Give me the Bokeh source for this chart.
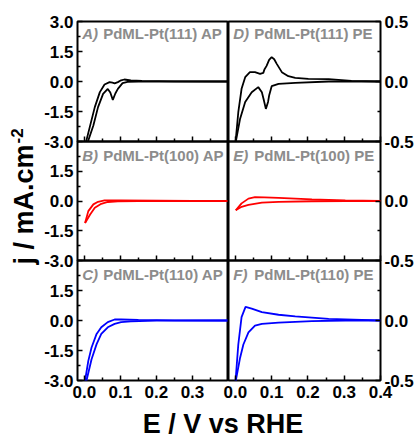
import math
from bokeh.plotting import figure
from bokeh.models import Range1d, FixedTicker, PrintfTickFormatter, CustomJSTickFormatter, Label
from bokeh.layouts import row, column
from bokeh.embed import file_html
from bokeh.resources import INLINE

FONT = "Liberation Sans"
GRAY = "#8c8c8c"

# ---------------- tick values / labels ----------------
x_ticks = [0.0, 0.1, 0.2, 0.3, 0.4]
x_minor = [0.05, 0.15, 0.25, 0.35]
left_ticks = [-3.0, -1.5, 0.0, 1.5, 3.0]
left_minor = [-2.25, -0.75, 0.75, 2.25]
right_ticks = [-0.5, 0.0, 0.5]
right_minor = [-0.25, 0.25]

panel_letters = ["A)", "B)", "C)", "D)", "E)", "F)"]
panel_names = ["PdML-Pt(111) AP", "PdML-Pt(100) AP", "PdML-Pt(110) AP",
               "PdML-Pt(111) PE", "PdML-Pt(100) PE", "PdML-Pt(110) PE"]
panel_colors = ["black", "red", "blue", "black", "red", "blue"]
x_label = "E / V vs RHE"
y_label = "j / mA.cm"
y_label_sup = "-2"

# ---------------- data (E in V, j in mA cm-2) ----------------
# A) PdML-Pt(111) AP
a_up_x = [0.002, 0.005, 0.015, 0.029, 0.043, 0.056, 0.070, 0.078, 0.084, 0.093, 0.102, 0.111, 0.129, 0.16, 0.25, 0.4]
a_up_j = [-3.5, -3.0, -2.28, -1.28, -0.53, -0.15, -0.03, -0.06, -0.09, -0.03, 0.06, 0.10, 0.05, 0.03, 0.01, 0.0]
a_lo_x = [0.002, 0.010, 0.025, 0.038, 0.052, 0.065, 0.072, 0.079, 0.086, 0.093, 0.106, 0.120, 0.15, 0.25, 0.4]
a_lo_j = [-3.5, -3.0, -2.2, -1.28, -0.62, -0.37, -0.55, -0.92, -0.6, -0.37, -0.08, -0.02, -0.01, 0.0, 0.0]

# B) PdML-Pt(100) AP
b_up_x = [0.002, 0.011, 0.025, 0.038, 0.056, 0.1, 0.2, 0.3, 0.4]
b_up_j = [-1.11, -0.51, -0.17, -0.04, 0.03, 0.03, 0.02, 0.01, 0.0]
b_lo_x = [0.002, 0.016, 0.029, 0.047, 0.065, 0.093, 0.15, 0.25, 0.4]
b_lo_j = [-1.11, -0.68, -0.34, -0.14, -0.05, -0.02, -0.01, 0.0, 0.0]

# C) PdML-Pt(110) AP
c_up_x = [0.0, 0.002, 0.011, 0.020, 0.034, 0.047, 0.065, 0.084, 0.102, 0.15, 0.25, 0.4]
c_up_j = [-3.5, -3.0, -2.02, -1.35, -0.67, -0.34, -0.08, 0.05, 0.05, 0.03, 0.01, 0.0]
c_lo_x = [0.0, 0.006, 0.020, 0.034, 0.047, 0.065, 0.084, 0.102, 0.129, 0.2, 0.4]
c_lo_j = [-3.5, -3.0, -1.94, -1.18, -0.67, -0.34, -0.17, -0.08, -0.04, -0.01, 0.0]

# D) PdML-Pt(111) PE
d_up_x = [0.0, 0.008, 0.017, 0.027, 0.040, 0.054, 0.068, 0.077, 0.080, 0.086, 0.093, 0.100, 0.107, 0.114, 0.128, 0.146, 0.165, 0.201, 0.257, 0.32, 0.4]
d_up_j = [-0.52, -0.256, -0.061, 0.036, 0.078, 0.078, 0.064, 0.072, 0.10, 0.13, 0.18, 0.203, 0.185, 0.147, 0.078, 0.044, 0.031, 0.022, 0.019, 0.005, 0.0]
d_lo_x = [0.0, 0.013, 0.027, 0.045, 0.063, 0.073, 0.078, 0.084, 0.090, 0.093, 0.100, 0.119, 0.165, 0.257, 0.4]
d_lo_j = [-0.52, -0.31, -0.17, -0.089, -0.047, -0.089, -0.15, -0.228, -0.17, -0.117, -0.039, -0.019, -0.011, 0.0, 0.0]

# E) PdML-Pt(100) PE
e_up_x = [0.001, 0.017, 0.036, 0.054, 0.08, 0.119, 0.211, 0.303, 0.4]
e_up_j = [-0.078, -0.02, 0.020, 0.032, 0.031, 0.026, 0.014, 0.006, 0.0]
e_lo_x = [0.001, 0.017, 0.036, 0.073, 0.119, 0.211, 0.303, 0.4]
e_lo_j = [-0.078, -0.049, -0.032, -0.014, -0.008, -0.002, 0.0, 0.0]

# F) PdML-Pt(110) PE
f_up_x = [0.0, 0.008, 0.017, 0.028, 0.045, 0.073, 0.119, 0.165, 0.257, 0.348, 0.4]
f_up_j = [-0.52, -0.20, 0.028, 0.113, 0.099, 0.070, 0.048, 0.034, 0.014, 0.006, 0.0]
f_lo_x = [0.0, 0.013, 0.022, 0.036, 0.054, 0.073, 0.119, 0.211, 0.303, 0.4]
f_lo_j = [-0.52, -0.31, -0.20, -0.099, -0.042, -0.028, -0.017, -0.006, 0.0, 0.0]

curves = [
    (a_up_x, a_up_j, a_lo_x, a_lo_j),
    (b_up_x, b_up_j, b_lo_x, b_lo_j),
    (c_up_x, c_up_j, c_lo_x, c_lo_j),
    (d_up_x, d_up_j, d_lo_x, d_lo_j),
    (e_up_x, e_up_j, e_lo_x, e_lo_j),
    (f_up_x, f_up_j, f_lo_x, f_lo_j),
]
# vertical centre of each panel title, in that panel's data units
label_y = [2.425, 2.279, 2.315, 0.404, 0.380, 0.386]

OV = 12   # overlap border between stacked panels
HOV = 10  # overlap border between columns


def style_axis(ax):
    ax.axis_line_color = None
    ax.major_tick_in = 5
    ax.major_tick_out = 0
    ax.minor_tick_in = 3
    ax.minor_tick_out = 0
    ax.major_tick_line_width = 1.5
    ax.minor_tick_line_width = 1.5
    ax.major_tick_line_color = "black"
    ax.minor_tick_line_color = "black"
    ax.major_label_text_font = FONT
    ax.major_label_text_font_style = "bold"
    ax.major_label_text_font_size = "17px"
    ax.major_label_text_color = "black"
    ax.major_label_standoff = 4


def make_panel(k):
    left = k < 3
    r = k % 3
    xu, ju, xl, jl = curves[k]
    yr = (-3.0, 3.0) if left else (-0.5, 0.5)
    fh = [120, 119, 120][r]
    fw = 151 if left else 152
    top_b = 21 if r == 0 else OV
    bot_b = 24 if r == 2 else OV
    mt = 0 if r == 0 else -2 * OV
    p = figure(frame_width=fw, frame_height=fh,
               x_range=Range1d(-0.019, 0.4), y_range=Range1d(*yr),
               output_backend="svg", toolbar_location=None, tools="",
               y_axis_location="left" if left else "right",
               min_border_left=37 if left else HOV,
               min_border_right=0 if left else 34,
               min_border_top=top_b, min_border_bottom=bot_b,
               background_fill_color=None, border_fill_color=None,
               outline_line_color="black", outline_line_width=2,
               margin=(mt, 0, 0, 0))
    p.grid.visible = False

    # y axis
    if left:
        yt = left_ticks if r == 0 else [t for t in left_ticks if t < 3.0]
        p.yaxis.ticker = FixedTicker(ticks=yt, minor_ticks=left_minor)
    else:
        yt = right_ticks if r == 0 else [t for t in right_ticks if t < 0.5]
        p.yaxis.ticker = FixedTicker(ticks=yt, minor_ticks=right_minor)
    p.yaxis.formatter = PrintfTickFormatter(format="%.1f")
    style_axis(p.yaxis[0])

    # x axis
    xt = x_ticks if not left else [t for t in x_ticks if t < 0.4]
    p.xaxis.ticker = FixedTicker(ticks=xt, minor_ticks=x_minor)
    style_axis(p.xaxis[0])
    if r == 2:
        p.xaxis.formatter = PrintfTickFormatter(format="%.1f")
        p.xaxis.major_label_standoff = 5
    else:
        p.xaxis.formatter = CustomJSTickFormatter(code="return '';")
        p.xaxis.major_label_text_font_size = "1px"
        p.xaxis.major_label_standoff = 0

    c = panel_colors[k]
    p.line(xl, jl, line_color=c, line_width=1.8)
    p.line(xu, ju, line_color=c, line_width=1.8)

    p.add_layout(Label(x=-0.006, y=label_y[k], text=panel_letters[k], text_font=FONT,
                       text_font_style="bold italic", text_font_size="15px",
                       text_color=GRAY, text_baseline="middle"))
    p.add_layout(Label(x=-0.006, y=label_y[k], x_offset=21, text=panel_names[k], text_font=FONT,
                       text_font_style="bold", text_font_size="15px",
                       text_color=GRAY, text_baseline="middle"))
    return p


panels = [make_panel(k) for k in range(6)]

# y label strip
YW, YH = 40, 404
ylab = figure(width=YW, height=YH, x_range=Range1d(0, YW), y_range=Range1d(0, YH),
              output_backend="svg", toolbar_location=None, tools="",
              x_axis_location=None, y_axis_location=None, outline_line_color=None,
              min_border_left=0, min_border_right=0, min_border_top=0, min_border_bottom=0,
              background_fill_color=None, border_fill_color=None)
ylab.grid.visible = False
ylab.add_layout(Label(x=23.5, y=140, text=y_label, angle=math.pi / 2, text_font=FONT,
                      text_font_style="bold", text_font_size="27px", text_color="black",
                      text_align="left", text_baseline="middle"))
ylab.add_layout(Label(x=16, y=261, text=y_label_sup, angle=math.pi / 2, text_font=FONT,
                      text_font_style="bold", text_font_size="17px", text_color="black",
                      text_align="left", text_baseline="middle"))

# x label strip
XW, XH = 414, 34
xlab = figure(width=XW, height=XH, x_range=Range1d(0, XW), y_range=Range1d(0, XH),
              output_backend="svg", toolbar_location=None, tools="",
              x_axis_location=None, y_axis_location=None, outline_line_color=None,
              min_border_left=0, min_border_right=0, min_border_top=0, min_border_bottom=0,
              background_fill_color=None, border_fill_color=None)
xlab.grid.visible = False
xlab.add_layout(Label(x=222.5, y=15, text=x_label, text_font=FONT,
                      text_font_style="bold", text_font_size="27px", text_color="black",
                      text_align="center", text_baseline="middle"))

left_col = column(*panels[:3])
right_col = column(*panels[3:], margin=(0, 0, 0, -HOV))
layout = column(row(ylab, left_col, right_col), xlab)

open("out.html", "w").write(file_html(layout, INLINE))
